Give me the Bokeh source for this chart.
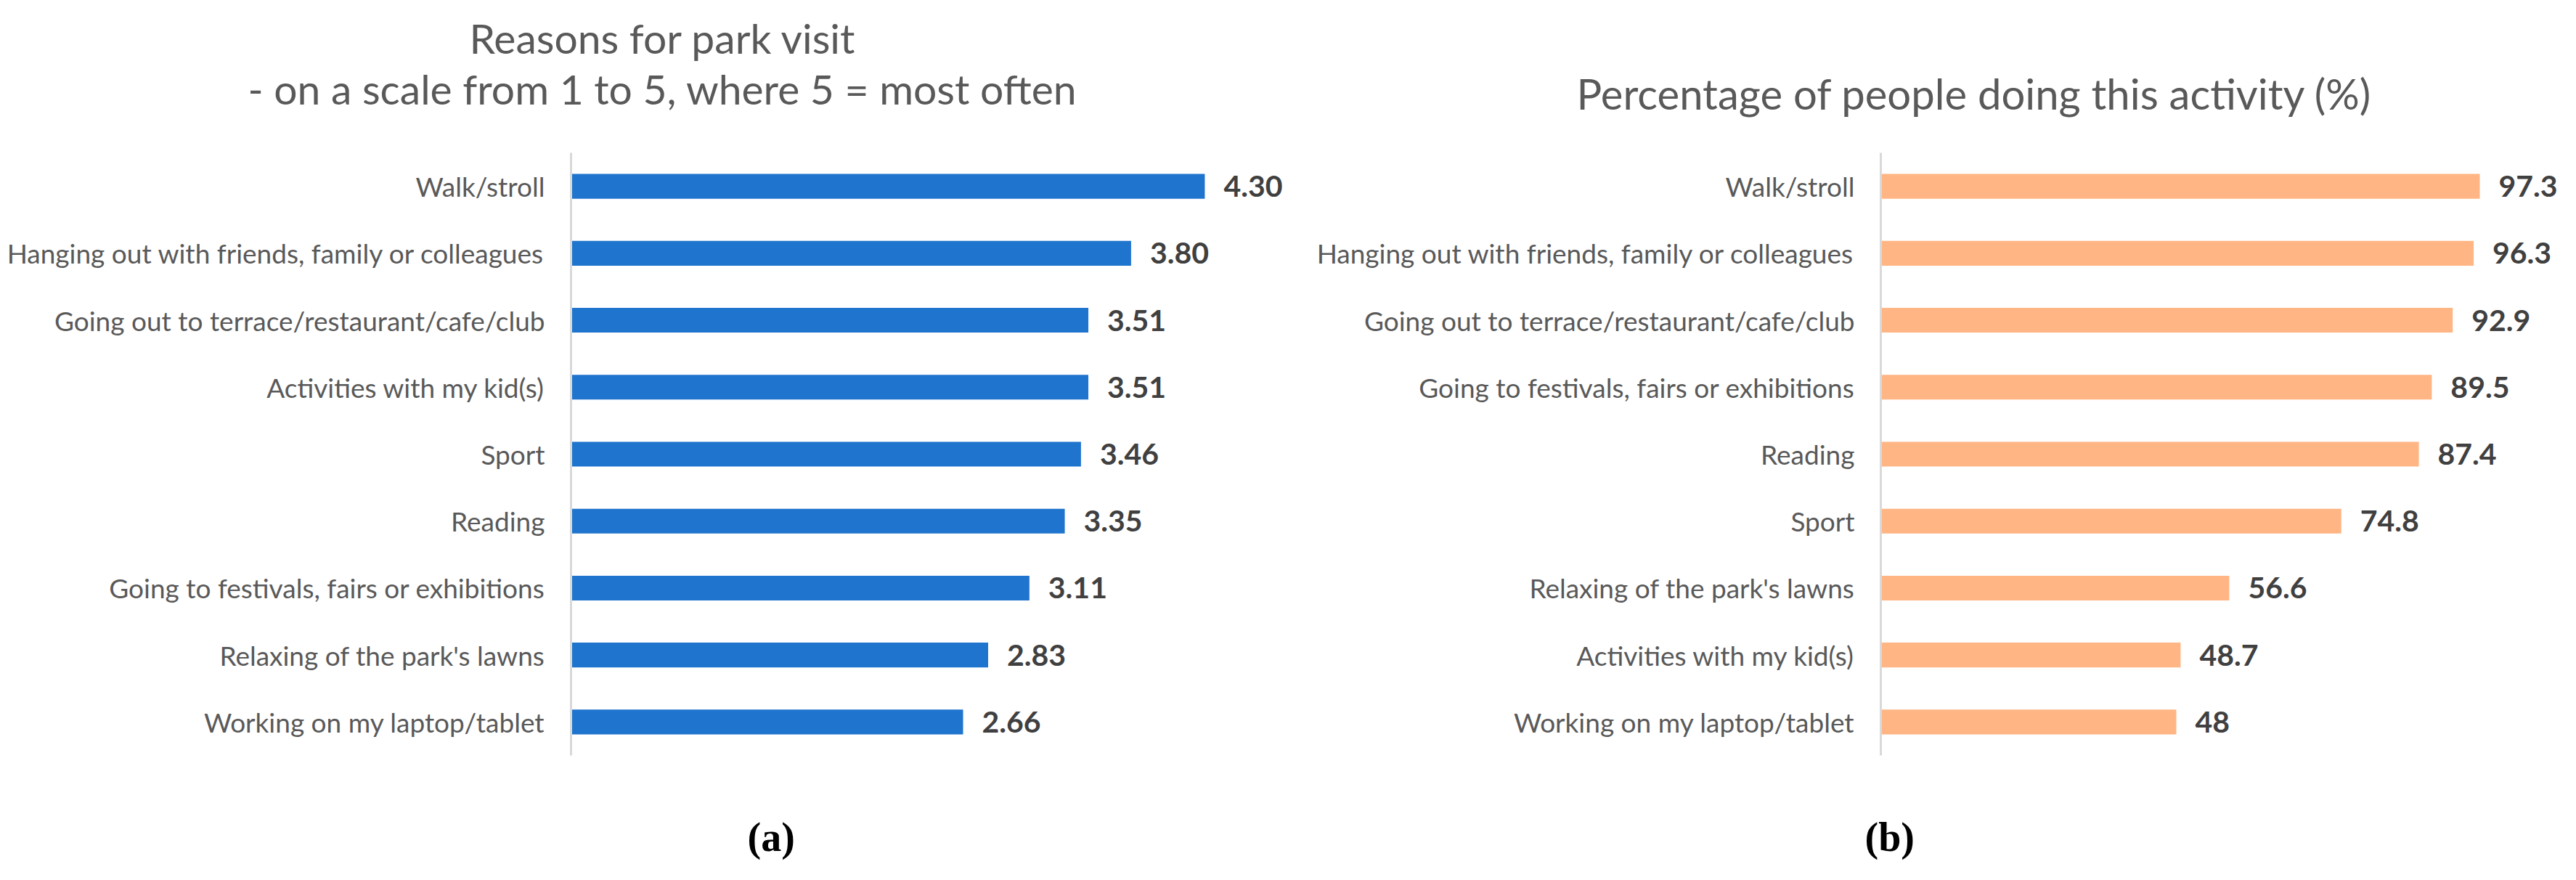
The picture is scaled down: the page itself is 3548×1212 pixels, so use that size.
from bokeh.plotting import figure
from bokeh.models import Range1d, FactorRange, Title, ColumnDataSource
from bokeh.layouts import row
from bokeh.core.properties import value
from bokeh.embed import file_html
from bokeh.resources import INLINE

# ---- data ----
cats_a = ["Walk/stroll", "Hanging out with friends, family or colleagues",
          "Going out to terrace/restaurant/cafe/club", "Activities with my kid(s)",
          "Sport", "Reading", "Going to festivals, fairs or exhibitions",
          "Relaxing of the park's lawns", "Working on my laptop/tablet"]
vals_a = [4.30, 3.80, 3.51, 3.51, 3.46, 3.35, 3.11, 2.83, 2.66]
lbls_a = ["4.30", "3.80", "3.51", "3.51", "3.46", "3.35", "3.11", "2.83", "2.66"]

cats_b = ["Walk/stroll", "Hanging out with friends, family or colleagues",
          "Going out to terrace/restaurant/cafe/club", "Going to festivals, fairs or exhibitions",
          "Reading", "Sport", "Relaxing of the park's lawns",
          "Activities with my kid(s)", "Working on my laptop/tablet"]
vals_b = [97.3, 96.3, 92.9, 89.5, 87.4, 74.8, 56.6, 48.7, 48]
lbls_b = ["97.3", "96.3", "92.9", "89.5", "87.4", "74.8", "56.6", "48.7", "48"]

title_a1 = "Reasons for park visit"
title_a2 = "- on a scale from 1 to 5, where 5 = most often"
title_b = "Percentage of people doing this activity (%)"

FONT = "Lato"
GRAY = "#595959"
H = 1196
TOP = 210
BOTTOM = 156


def mk_title(text, offset, standoff=0, size="57px", font=FONT, style="normal", color=GRAY):
    return Title(text=text, align="left", offset=offset, standoff=standoff,
                 text_font=font, text_font_size=size, text_font_style=style,
                 text_color=color)


def spacer(px):
    # blank title used only to reserve vertical space
    return Title(text=" ", text_font=FONT, text_font_size="10px",
                 standoff=max(px - 15, 0), text_color="#FFFFFF")


def make_panel(cats, vals, lbls, color, width, left, xend):
    p = figure(width=width, height=H, output_backend="svg", toolbar_location=None,
               y_range=FactorRange(factors=list(reversed(cats)), range_padding=0),
               x_range=Range1d(0, xend),
               min_border_left=left, min_border_right=0,
               min_border_top=TOP, min_border_bottom=BOTTOM)
    src = ColumnDataSource(dict(y=cats, v=vals, t=lbls))
    p.hbar(y="y", right="v", left=0, height=0.37, source=src,
           fill_color=color, line_color=None)
    p.text(x="v", y="y", text="t", source=src, x_offset=26,
           text_font=value(FONT), text_font_style="bold", text_font_size="41px",
           text_color="#404040", text_baseline="middle", text_align="left")
    p.xaxis.visible = False
    p.xgrid.visible = False
    p.ygrid.visible = False
    p.outline_line_color = None
    ax = p.yaxis[0]
    ax.axis_line_color = "#D9D9D9"
    ax.axis_line_width = 3
    ax.major_tick_line_color = None
    ax.minor_tick_line_color = None
    ax.major_tick_out = 0
    ax.major_tick_in = 0
    ax.major_label_standoff = 36
    ax.major_label_text_font = FONT
    ax.major_label_text_font_size = "37px"
    ax.major_label_text_color = GRAY
    return p


pa = make_panel(cats_a, vals_a, lbls_a, "#1F74CD", 1801, 786, 5.0)
pa.add_layout(spacer(56), "above")
pa.add_layout(mk_title(title_a2, -445), "above")
pa.add_layout(mk_title(title_a1, -140), "above")
pa.add_layout(spacer(80), "below")
pa.add_layout(mk_title("(a)", 243, size="56px", font="Liberation Serif",
                       style="bold", color="black"), "below")

pb = make_panel(cats_b, vals_b, lbls_b, "#FFB584", 1731, 789, 111.1)
pb.add_layout(spacer(49), "above")
pb.add_layout(mk_title(title_b, -419, size="58px"), "above")
pb.add_layout(spacer(80), "below")
pb.add_layout(mk_title("(b)", -22, size="56px", font="Liberation Serif",
                       style="bold", color="black"), "below")

layout = row(pa, pb)
open("out.html", "w").write(file_html(layout, INLINE))
